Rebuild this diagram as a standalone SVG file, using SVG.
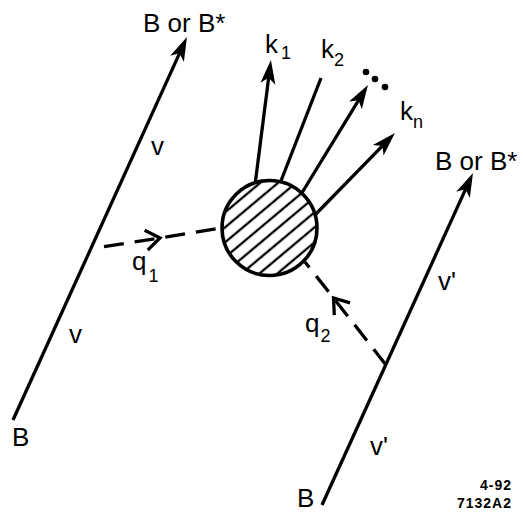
<svg xmlns="http://www.w3.org/2000/svg" width="523" height="516" viewBox="0 0 523 516">
<style>
  .ln { fill: none; stroke: #000; stroke-width: 3.3; stroke-linecap: butt; }
  .dash { fill: none; stroke: #000; stroke-width: 3.3; stroke-dasharray: 20 11; }
  .lbl { font-family: "Liberation Sans", Arial, Helvetica, sans-serif; font-size: 26px; fill: #000; }
  .sub { font-size: 18px; }
  .stamp { font-family: "Liberation Sans", Arial, Helvetica, sans-serif; font-size: 14px; font-weight: bold; letter-spacing: 1px; fill: #000; text-anchor: end; }
</style>
<defs>
  <marker id="arrow" markerUnits="userSpaceOnUse" viewBox="-14 -10 28 20" markerWidth="28" markerHeight="20" refX="0" refY="0" orient="auto" overflow="visible">
    <path d="M12,0 L-12,-7.5 L-6,0 L-12,7.5 Z" fill="#000"/>
  </marker>
  <marker id="chev" markerUnits="userSpaceOnUse" viewBox="-16 -12 20 24" markerWidth="20" markerHeight="24" refX="0" refY="0" orient="auto" overflow="visible">
    <path d="M-14,-10 L0,0 L-14,10" fill="none" stroke="#000" stroke-width="3.3" stroke-linejoin="miter"/>
  </marker>
  <pattern id="hatch" patternUnits="userSpaceOnUse" width="20" height="11.5" patternTransform="translate(269,228) rotate(-40)">
    <line x1="-1" y1="5.75" x2="21" y2="5.75" stroke="#000" stroke-width="2.3"/>
  </pattern>
</defs>

<g id="connectors">
  <path id="line-B-left" class="ln" d="M13,420 L182,47.9" marker-end="url(#arrow)"/>
  <path id="line-B-right" class="ln" d="M322,505 L468,183.9" marker-end="url(#arrow)"/>
  <path id="k1" class="ln" d="M255,185 L269.4,71.9" marker-end="url(#arrow)"/>
  <path id="k2" class="ln" d="M279,186 L321,78"/>
  <path id="k3" class="ln" d="M300,196 L361.7,95.2" marker-end="url(#arrow)"/>
  <path id="kn" class="ln" d="M312,218 L386.6,141.6" marker-end="url(#arrow)"/>
  <path id="q1" class="dash" d="M104,246.6 L160,238 L221,228" marker-mid="url(#chev)"/>
  <path id="q2" class="dash" d="M386,365 L333.5,298 L305,262" marker-mid="url(#chev)"/>
</g>

<g id="blob">
  <circle cx="269.5" cy="228" r="47.5" fill="#fff"/>
  <circle cx="269.5" cy="228" r="47.5" fill="url(#hatch)" stroke="#000" stroke-width="3.6"/>
</g>

<g id="dots">
  <circle cx="366" cy="72" r="3.3" fill="#000"/>
  <circle cx="375" cy="79" r="3.3" fill="#000"/>
  <circle cx="385" cy="87" r="3.3" fill="#000"/>
</g>

<g id="labels">
  <text class="lbl" x="143" y="32">B or B*</text>
  <text class="lbl" x="151" y="155">v</text>
  <text class="lbl" x="69" y="343">v</text>
  <text class="lbl" x="12" y="446">B</text>
  <text class="lbl" x="132" y="270">q<tspan class="sub" dx="2" dy="12">1</tspan></text>
  <text class="lbl" x="265" y="53">k<tspan class="sub" dx="3" dy="6">1</tspan></text>
  <text class="lbl" x="321" y="58">k<tspan class="sub" dx="0" dy="8">2</tspan></text>
  <text class="lbl" x="400" y="120">k<tspan class="sub" dx="0" dy="8">n</tspan></text>
  <text class="lbl" x="435" y="170">B or B*</text>
  <text class="lbl" x="438" y="290">v'</text>
  <text class="lbl" x="370" y="455">v'</text>
  <text class="lbl" x="297" y="507">B</text>
  <text class="lbl" x="305" y="332">q<tspan class="sub" dx="1" dy="10">2</tspan></text>
  <text class="stamp" x="512" y="490">4-92</text>
  <text class="stamp" x="512" y="508">7132A2</text>
</g>
</svg>
